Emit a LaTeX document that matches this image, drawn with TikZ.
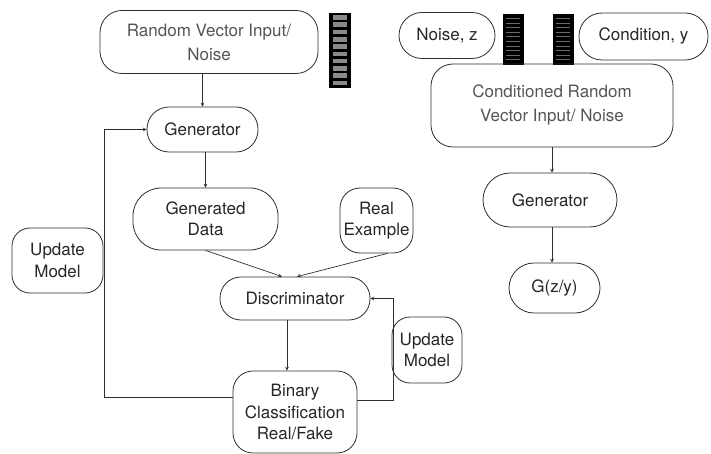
\documentclass[tikz,border=0pt]{standalone}
\usepackage{fontspec}
\setmainfont{TeX Gyre Heros}
\usepackage{xcolor}
\usepackage{tikz}
\usetikzlibrary{arrows,positioning,calc}

\definecolor{edgegray}{HTML}{2E2E2E}
\definecolor{textgray}{HTML}{555555}
\definecolor{cellgray}{HTML}{8A8A8A}
\definecolor{stripegray}{HTML}{6A6A6A}

\begin{document}
\begin{tikzpicture}[
    x=1pt, y=-1pt,
    every node/.style={font=\fontsize{17}{21.5}\selectfont, text=black!85},
    block/.style={rectangle, draw=edgegray, line width=0.8pt, inner sep=0pt, align=center},
    inputbox/.style={block, text=textgray, font=\fontsize{17}{24}\selectfont},
    vecbar/.style={rectangle, fill=black, inner sep=0pt},
    arrow/.style={->,>=stealth,draw=edgegray,line width=0.7pt}
]
\useasboundingbox (0,0) rectangle (711,454);

% Unconditioned GAN
\node[inputbox, minimum width=218pt, minimum height=63pt, rounded corners=22pt] (rand) at (209,42) {Random Vector Input/\\Noise};
\node[vecbar, minimum width=22pt, minimum height=75pt] (vecA) at (340,50.5) {};
\foreach \i in {0,...,9}
    \fill[cellgray] ($(vecA.north west)+(4,2.3+7.3*\i)$) rectangle ++(14,4.6);

\node[block, minimum width=111pt, minimum height=45pt, rounded corners=22pt] (gen) at (202.5,129.5) {Generator};
\node[block, minimum width=145pt, minimum height=62pt, rounded corners=28pt] (gendata) at (205.5,219) {Generated\\Data};
\node[block, minimum width=73pt, minimum height=65pt, rounded corners=20pt] (real) at (376.5,220.5) {Real\\Example};
\node[block, minimum width=150pt, minimum height=43pt, rounded corners=21pt] (disc) at (295,298.5) {Discriminator};
\node[block, minimum width=124pt, minimum height=82pt, rounded corners=20pt] (binary) at (295,412) {Binary\\Classification\\Real/Fake};
\node[block, minimum width=91pt, minimum height=65pt, rounded corners=18pt] (updL) at (57.5,260.5) {Update\\Model};
\node[block, minimum width=70pt, minimum height=66pt, rounded corners=18pt] (updR) at (427,350) {Update\\Model};

\coordinate (lbend) at (104,397);
\coordinate (rbend) at (393,400);

\draw[arrow] (rand.south -| gen.north) -- (gen.north);
\draw[arrow] (gen.south -| gendata.north) -- (gendata.north);
\draw[arrow] (gendata.south) -- ([xshift=-13pt]disc.north);
\draw[arrow] ([xshift=11pt]real.south) -- ([xshift=2pt]disc.north);
\draw[arrow] ([xshift=-8pt]disc.south) -- ([xshift=-8pt]binary.north);

% Update feedback
\draw[arrow] ([yshift=15pt]binary.west) -- (lbend) |- (gen.west);
\draw[arrow] ([yshift=12pt]binary.east) -- (rbend) |- (disc.east);

% Conditional GAN
\node[block, minimum width=96pt, minimum height=46pt, rounded corners=23pt] (noise) at (447,35.5) {Noise, z};
\node[vecbar, minimum width=21pt, minimum height=51pt] (vecB) at (513.5,39.5) {};
\node[vecbar, minimum width=21pt, minimum height=51pt] (vecC) at (563.5,39.5) {};
\foreach \v in {vecB,vecC}
    \foreach \i in {1,...,10}
        \draw[stripegray, line width=0.7pt] ($(\v.north west)+(3.5,4.6*\i)$) -- ++(14,0);
\node[block, minimum width=129pt, minimum height=47pt, rounded corners=23pt] (cond) at (643.5,36.5) {Condition, y};

\node[inputbox, minimum width=242pt, minimum height=83pt, rounded corners=22pt] (condin) at (552,105.5) {Conditioned Random\\Vector Input/ Noise};
\node[block, minimum width=134pt, minimum height=54pt, rounded corners=27pt] (gen2) at (550,200) {Generator};
\node[block, minimum width=91pt, minimum height=50pt, rounded corners=25pt] (gzy) at (554.5,288) {G(z/y)};

\draw[arrow] (condin.south) -- (condin.south |- gen2.north);
\draw[arrow] (gen2.south -| condin.south) -- (gzy.north -| condin.south);

\end{tikzpicture}
\end{document}
